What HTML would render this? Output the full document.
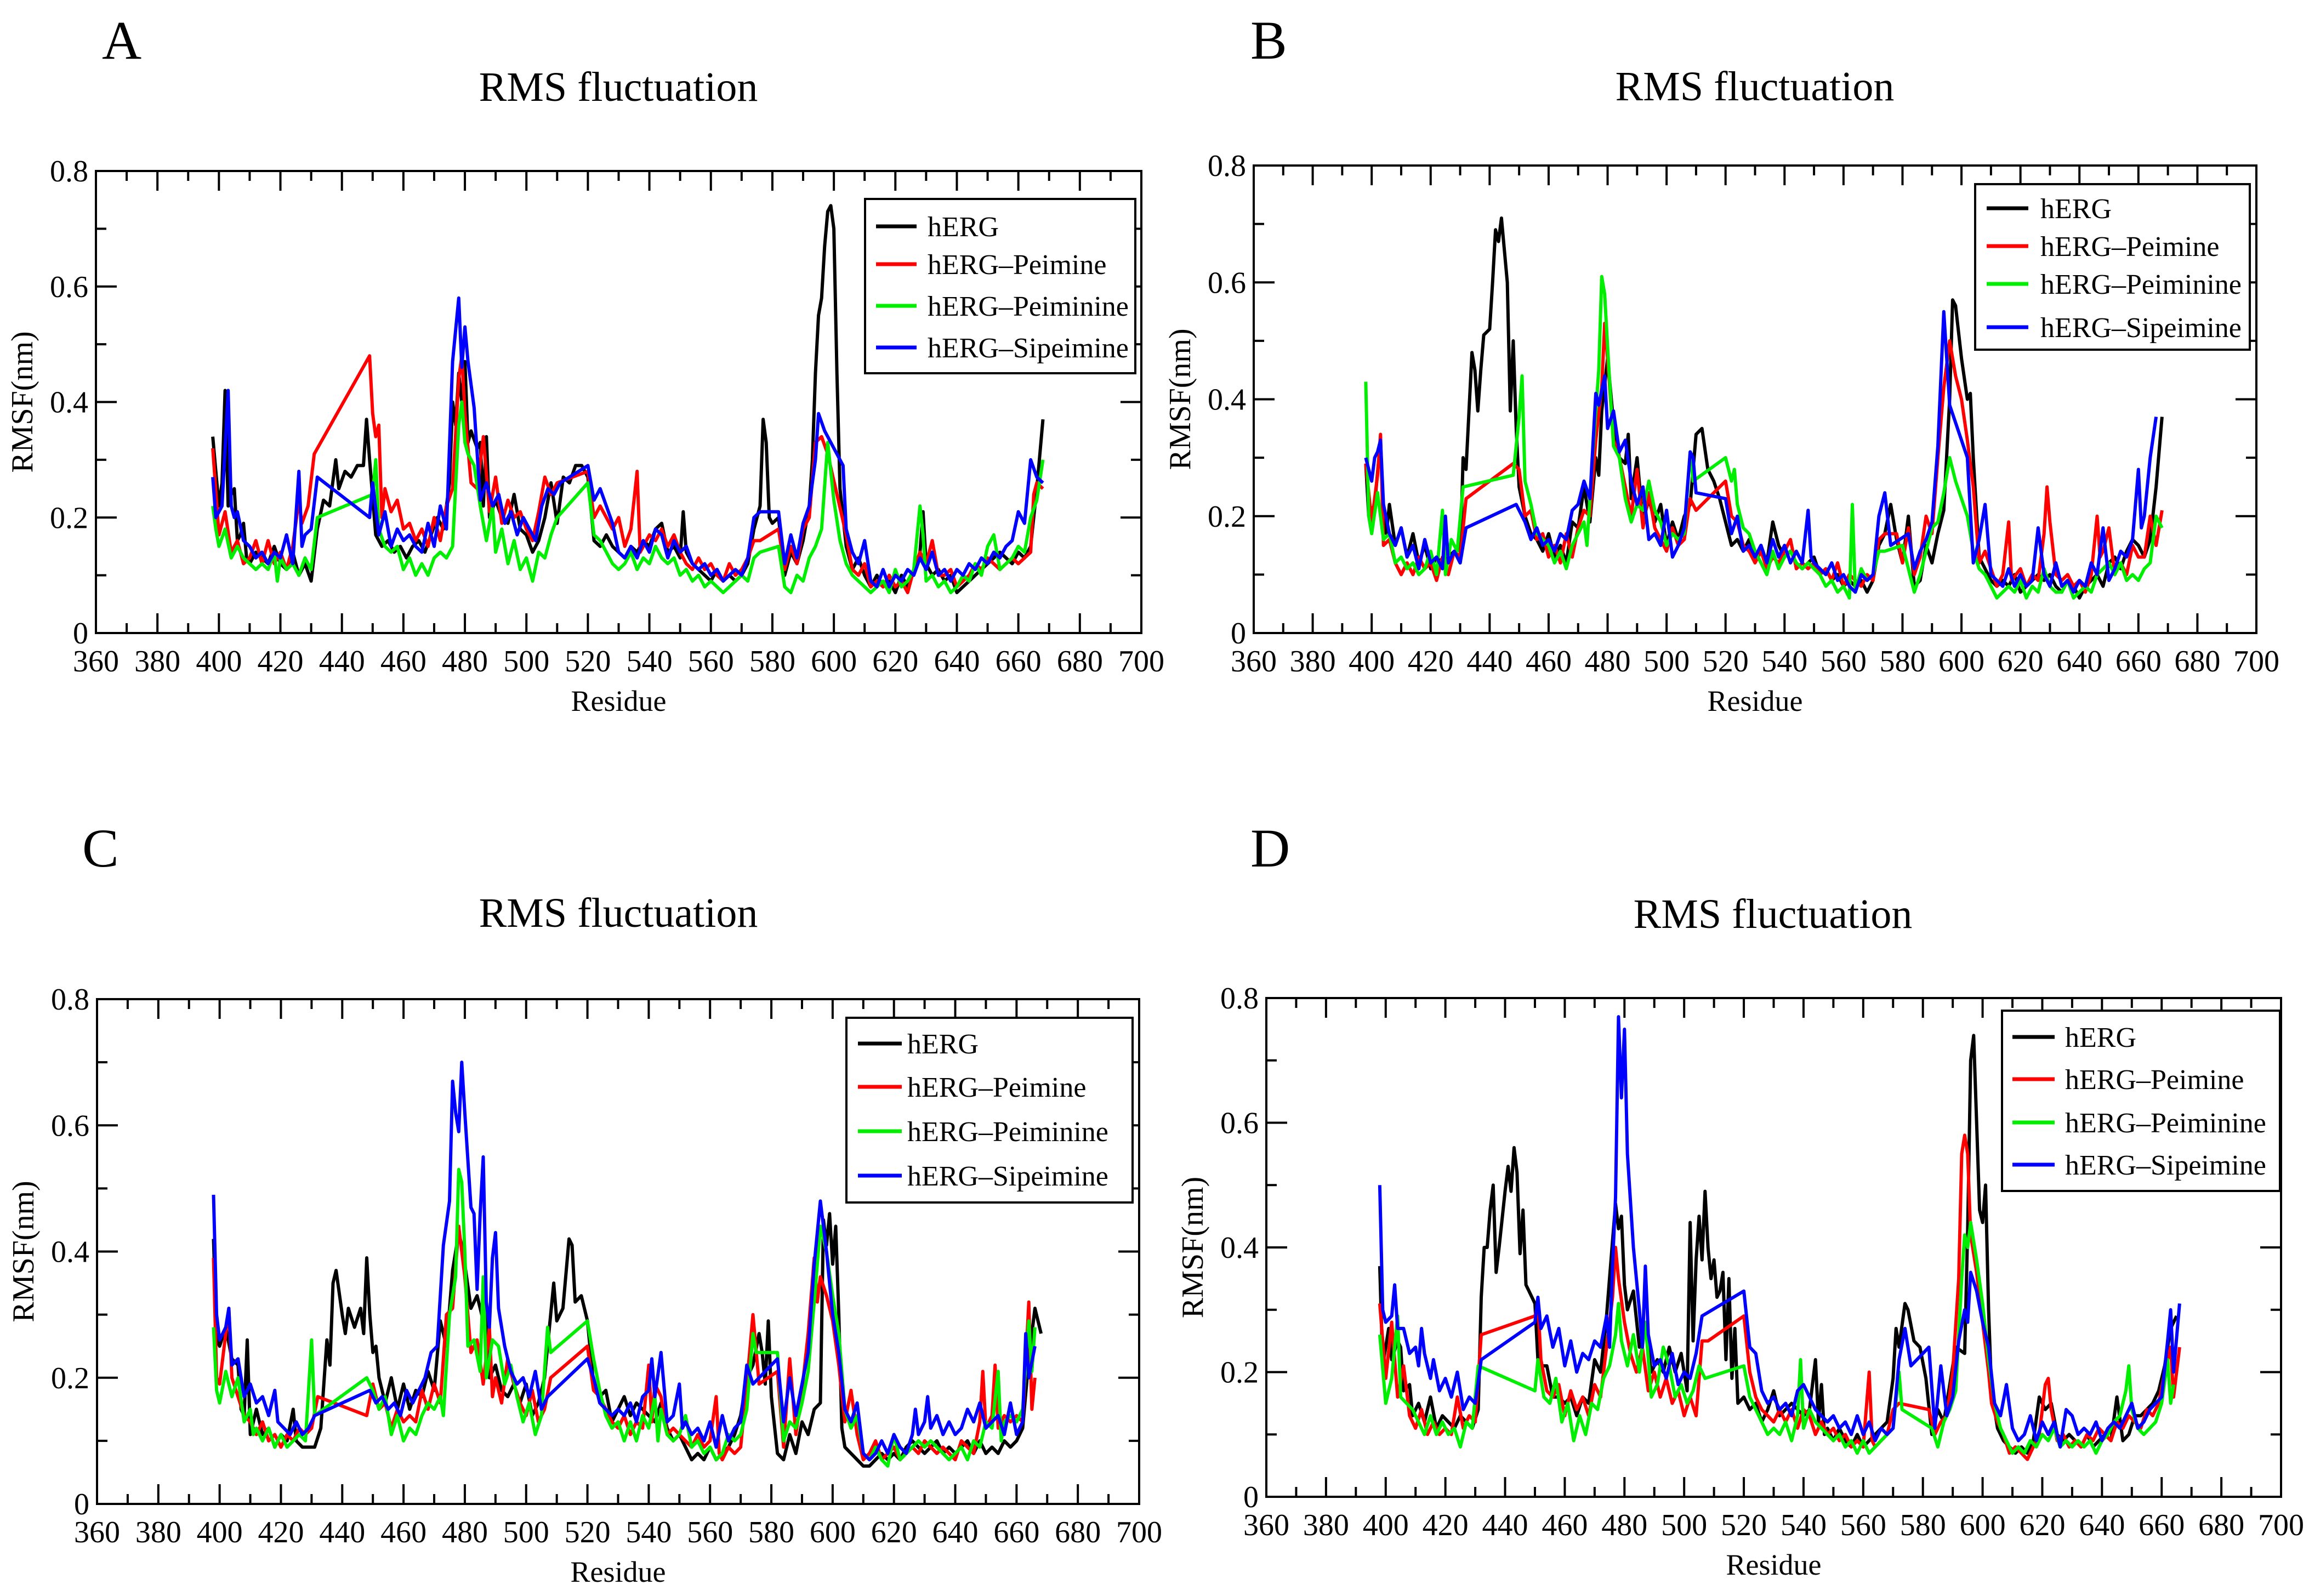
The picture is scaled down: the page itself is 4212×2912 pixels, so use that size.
<!DOCTYPE html>
<html><head><meta charset="utf-8"><title>RMS fluctuation</title>
<style>html,body{margin:0;padding:0;background:#fff}svg{display:block}text{font-family:"Liberation Serif",serif}</style>
</head><body>
<svg id="fig" xmlns="http://www.w3.org/2000/svg" width="4212" height="2912" viewBox="0 0 4212 2912">
<rect x="0" y="0" width="4212" height="2912" fill="#fff"/>
</svg>
<script>
// ---- data: [residue, RMSF(nm)] ----
const A_hERG=[[398,.34],[399,.28],[400,.22],[401,.26],[402,.42],[403,.22],[404,.24],[405,.25],[406,.16],[407,.17],[408,.19],[409,.13],[410,.12],[412,.14],[414,.13],[416,.12],[418,.15],[420,.12],[422,.11],[424,.14],[426,.10],[428,.12],[430,.09],[432,.18],[434,.23],[436,.22],[438,.30],[439,.25],[441,.28],[443,.27],[445,.29],[447,.29],[448,.37],[449,.30],[451,.17],[453,.15],[455,.16],[457,.14],[459,.15],[461,.13],[463,.15],[465,.16],[467,.14],[469,.17],[471,.20],[473,.18],[475,.26],[476,.40],[477,.36],[478,.45],[479,.40],[480,.47],[481,.33],[482,.35],[484,.32],[485,.33],[486,.22],[487,.34],[488,.20],[490,.23],[492,.20],[494,.19],[496,.24],[498,.18],[500,.17],[502,.14],[504,.16],[506,.20],[508,.26],[510,.19],[512,.27],[514,.26],[516,.29],[518,.29],[520,.27],[522,.16],[524,.15],[526,.17],[528,.15],[530,.14],[532,.13],[534,.15],[536,.14],[538,.16],[540,.15],[542,.18],[544,.19],[546,.14],[548,.15],[550,.13],[551,.21],[552,.14],[554,.12],[556,.11],[558,.10],[560,.09],[562,.11],[564,.09],[566,.10],[568,.09],[570,.10],[572,.12],[574,.18],[576,.22],[577,.37],[578,.33],[579,.20],[580,.19],[582,.20],[584,.10],[586,.14],[588,.12],[590,.16],[592,.22],[593,.30],[594,.45],[595,.55],[596,.58],[597,.67],[598,.73],[599,.74],[600,.70],[601,.45],[602,.25],[604,.15],[606,.11],[608,.13],[610,.10],[612,.08],[614,.10],[616,.08],[618,.09],[620,.07],[622,.10],[624,.08],[626,.11],[628,.14],[629,.21],[630,.12],[632,.10],[634,.11],[636,.09],[638,.10],[640,.07],[642,.08],[644,.09],[646,.10],[648,.11],[650,.12],[652,.13],[654,.14],[656,.13],[658,.12],[660,.14],[662,.13],[664,.15],[666,.25],[668,.37]];
const A_Peimine=[[398,.32],[400,.17],[402,.21],[404,.14],[406,.16],[408,.12],[410,.13],[412,.16],[414,.12],[416,.16],[418,.12],[420,.14],[422,.11],[424,.15],[426,.23],[427,.19],[429,.22],[431,.31],[449,.48],[450,.38],[451,.34],[452,.36],[453,.20],[454,.25],[456,.21],[458,.23],[460,.18],[462,.19],[464,.16],[466,.18],[468,.15],[470,.20],[472,.16],[474,.22],[476,.25],[478,.44],[479,.48],[480,.38],[482,.26],[484,.25],[486,.34],[488,.21],[490,.27],[492,.19],[494,.23],[496,.20],[498,.21],[500,.18],[502,.16],[504,.21],[506,.27],[508,.24],[510,.26],[520,.28],[522,.20],[524,.22],[526,.20],[528,.18],[530,.20],[532,.15],[534,.18],[536,.28],[537,.14],[540,.17],[542,.16],[544,.18],[546,.15],[548,.17],[550,.14],[552,.12],[554,.11],[556,.13],[558,.11],[560,.12],[562,.10],[564,.09],[566,.12],[568,.10],[570,.11],[572,.13],[574,.16],[576,.16],[582,.18],[584,.11],[586,.15],[588,.12],[590,.18],[592,.20],[594,.33],[596,.34],[598,.31],[604,.17],[606,.11],[608,.10],[610,.12],[612,.08],[614,.09],[616,.08],[618,.10],[620,.08],[622,.09],[624,.07],[626,.11],[628,.14],[630,.12],[632,.16],[634,.10],[636,.10],[638,.11],[640,.08],[642,.09],[644,.10],[646,.12],[648,.11],[650,.13],[652,.12],[654,.11],[656,.12],[658,.13],[660,.12],[662,.13],[664,.14],[665,.24],[666,.26],[668,.25]];
const A_Peiminine=[[398,.22],[399,.18],[400,.15],[402,.18],[404,.13],[406,.15],[408,.13],[410,.12],[412,.11],[414,.12],[416,.11],[418,.14],[419,.09],[420,.13],[422,.11],[424,.12],[426,.10],[428,.13],[430,.11],[432,.20],[450,.24],[451,.30],[452,.18],[454,.15],[456,.14],[458,.15],[460,.11],[462,.13],[464,.10],[466,.12],[468,.10],[470,.13],[472,.14],[474,.13],[476,.15],[478,.36],[479,.40],[480,.33],[481,.31],[483,.29],[485,.22],[487,.16],[489,.22],[490,.14],[492,.18],[494,.12],[496,.16],[498,.11],[500,.13],[502,.09],[504,.14],[506,.13],[508,.17],[510,.20],[520,.26],[522,.17],[524,.16],[526,.14],[528,.12],[530,.11],[532,.12],[534,.14],[536,.11],[538,.13],[540,.12],[542,.15],[544,.13],[546,.12],[548,.13],[550,.10],[552,.11],[554,.09],[556,.10],[558,.08],[560,.09],[562,.08],[564,.07],[566,.08],[568,.09],[570,.10],[572,.09],[574,.13],[576,.14],[582,.15],[584,.08],[586,.07],[588,.10],[590,.09],[592,.13],[594,.15],[596,.18],[598,.33],[600,.23],[602,.16],[604,.12],[606,.10],[608,.09],[610,.08],[612,.07],[614,.08],[616,.09],[618,.07],[620,.11],[622,.08],[624,.09],[626,.11],[628,.22],[629,.17],[630,.09],[632,.10],[634,.08],[636,.09],[638,.07],[640,.08],[642,.10],[644,.09],[646,.12],[648,.10],[650,.15],[652,.17],[654,.11],[656,.12],[658,.13],[660,.15],[662,.14],[664,.20],[666,.23],[668,.30]];
const A_Sipeimine=[[398,.27],[399,.20],[401,.22],[403,.42],[404,.22],[405,.20],[406,.21],[408,.16],[410,.15],[412,.13],[414,.14],[416,.12],[418,.14],[420,.13],[422,.17],[424,.12],[426,.28],[427,.15],[428,.17],[430,.18],[432,.27],[449,.20],[450,.26],[452,.17],[454,.21],[456,.15],[458,.18],[460,.16],[462,.17],[464,.15],[466,.14],[468,.19],[470,.15],[472,.22],[474,.18],[476,.47],[478,.58],[479,.46],[480,.53],[481,.47],[483,.39],[485,.23],[487,.26],[489,.22],[491,.24],[493,.19],[495,.21],[497,.17],[499,.20],[501,.18],[503,.16],[505,.22],[507,.25],[509,.24],[511,.26],[520,.29],[522,.23],[524,.25],[526,.22],[528,.19],[530,.14],[532,.13],[534,.15],[536,.13],[538,.16],[540,.14],[542,.18],[544,.17],[546,.13],[548,.16],[550,.14],[552,.15],[554,.12],[556,.11],[558,.12],[560,.10],[562,.11],[564,.09],[566,.10],[568,.11],[570,.10],[572,.13],[574,.20],[576,.21],[582,.21],[584,.12],[586,.17],[588,.13],[590,.19],[592,.22],[594,.30],[595,.38],[597,.35],[603,.29],[604,.18],[606,.14],[608,.12],[610,.16],[612,.09],[614,.08],[616,.11],[618,.08],[620,.10],[622,.09],[624,.11],[626,.10],[628,.13],[630,.11],[632,.14],[634,.10],[636,.11],[638,.09],[640,.11],[642,.10],[644,.12],[646,.11],[648,.13],[650,.12],[652,.14],[654,.13],[656,.15],[658,.16],[660,.21],[662,.19],[664,.30],[666,.27],[668,.26]];

const B_hERG=[[398,.29],[399,.20],[401,.22],[403,.33],[404,.20],[405,.17],[406,.22],[408,.15],[410,.18],[412,.13],[414,.17],[416,.12],[418,.15],[420,.11],[422,.13],[424,.12],[426,.13],[428,.14],[430,.12],[431,.30],[432,.28],[434,.48],[435,.45],[436,.38],[437,.45],[438,.51],[440,.52],[441,.60],[442,.69],[443,.67],[444,.71],[446,.60],[447,.38],[448,.50],[449,.35],[450,.25],[452,.20],[454,.17],[456,.16],[458,.14],[460,.17],[462,.13],[464,.15],[466,.12],[468,.19],[470,.18],[472,.25],[474,.19],[476,.30],[477,.27],[478,.38],[480,.47],[482,.36],[484,.30],[486,.29],[487,.34],[488,.23],[490,.30],[492,.19],[494,.23],[496,.19],[498,.22],[500,.15],[502,.19],[504,.16],[506,.20],[508,.22],[510,.34],[512,.35],[514,.28],[516,.26],[518,.23],[520,.19],[522,.15],[524,.16],[526,.14],[528,.16],[530,.13],[532,.15],[534,.12],[536,.19],[538,.15],[540,.13],[542,.14],[544,.12],[546,.11],[548,.12],[550,.13],[552,.10],[554,.11],[556,.09],[558,.10],[560,.08],[562,.09],[564,.08],[566,.09],[568,.07],[570,.09],[572,.15],[574,.17],[576,.22],[578,.16],[580,.12],[582,.20],[584,.08],[586,.09],[588,.15],[590,.12],[592,.17],[594,.21],[596,.40],[597,.57],[598,.56],[600,.47],[602,.40],[603,.41],[604,.30],[606,.13],[608,.11],[610,.09],[612,.08],[614,.09],[616,.08],[618,.10],[620,.07],[622,.08],[624,.09],[626,.10],[628,.09],[630,.10],[632,.08],[634,.07],[636,.09],[638,.08],[640,.06],[642,.08],[644,.09],[646,.10],[648,.08],[650,.12],[652,.13],[654,.11],[656,.14],[658,.16],[660,.15],[662,.13],[664,.16],[666,.25],[668,.37]];
const B_Peimine=[[398,.29],[400,.19],[402,.27],[403,.34],[404,.15],[406,.16],[408,.12],[410,.10],[412,.12],[414,.10],[416,.13],[418,.11],[420,.12],[422,.09],[424,.13],[426,.10],[428,.14],[430,.13],[432,.23],[448,.29],[450,.28],[452,.20],[454,.21],[456,.16],[458,.17],[460,.13],[462,.15],[464,.12],[466,.17],[468,.13],[470,.18],[472,.21],[474,.20],[476,.33],[478,.42],[479,.53],[480,.47],[482,.33],[484,.30],[486,.25],[488,.20],[490,.28],[492,.18],[494,.24],[496,.18],[498,.16],[500,.14],[502,.18],[504,.15],[506,.16],[508,.23],[510,.21],[520,.26],[522,.20],[524,.19],[526,.15],[528,.14],[530,.12],[532,.14],[534,.11],[536,.13],[538,.12],[540,.14],[542,.16],[544,.11],[546,.12],[548,.11],[550,.12],[552,.10],[554,.11],[556,.09],[558,.12],[560,.08],[562,.10],[564,.09],[566,.08],[568,.10],[570,.09],[572,.16],[574,.17],[578,.17],[580,.12],[582,.18],[584,.10],[586,.13],[588,.20],[590,.17],[592,.30],[594,.42],[596,.50],[598,.44],[600,.40],[602,.33],[604,.25],[606,.12],[608,.14],[610,.11],[612,.08],[614,.10],[616,.19],[617,.09],[620,.11],[622,.08],[624,.10],[626,.09],[628,.17],[629,.25],[630,.19],[632,.10],[634,.09],[636,.10],[638,.08],[640,.09],[642,.07],[644,.10],[646,.20],[647,.13],[648,.14],[650,.18],[652,.10],[654,.12],[656,.10],[658,.15],[660,.13],[662,.13],[664,.20],[666,.15],[668,.21]];
const B_Peiminine=[[398,.43],[399,.20],[400,.17],[402,.24],[404,.16],[406,.17],[408,.12],[410,.13],[412,.11],[414,.12],[416,.10],[418,.11],[420,.14],[422,.10],[424,.21],[425,.10],[427,.16],[429,.14],[431,.25],[448,.27],[450,.37],[451,.44],[452,.26],[454,.22],[456,.17],[458,.16],[460,.15],[462,.12],[464,.14],[466,.11],[468,.15],[470,.17],[472,.19],[473,.15],[475,.31],[477,.45],[478,.61],[479,.58],[480,.49],[482,.32],[484,.30],[486,.23],[488,.19],[490,.22],[492,.21],[494,.26],[496,.21],[498,.19],[500,.15],[502,.17],[504,.16],[506,.17],[508,.31],[509,.26],[520,.30],[522,.26],[523,.28],[524,.22],[526,.18],[528,.17],[530,.14],[532,.12],[534,.10],[536,.14],[538,.11],[540,.13],[542,.14],[544,.12],[546,.11],[548,.12],[550,.11],[552,.10],[554,.08],[556,.09],[558,.07],[560,.08],[562,.06],[563,.22],[564,.07],[566,.11],[568,.09],[570,.10],[572,.14],[574,.14],[580,.15],[582,.11],[584,.07],[586,.10],[588,.14],[590,.18],[592,.19],[594,.24],[596,.30],[598,.26],[602,.20],[604,.14],[606,.11],[608,.10],[610,.08],[612,.06],[614,.07],[616,.08],[618,.07],[620,.09],[622,.06],[624,.08],[626,.07],[628,.11],[630,.08],[632,.07],[634,.07],[636,.09],[638,.06],[640,.07],[642,.08],[644,.07],[646,.10],[648,.11],[650,.12],[652,.10],[654,.12],[656,.09],[658,.10],[660,.09],[662,.11],[664,.12],[666,.20],[668,.18]];
const B_Sipeimine=[[398,.30],[400,.26],[401,.30],[402,.31],[403,.33],[404,.22],[406,.17],[408,.15],[410,.18],[412,.13],[414,.15],[416,.11],[418,.16],[420,.12],[422,.13],[424,.11],[425,.20],[426,.12],[428,.14],[430,.12],[432,.18],[449,.22],[450,.21],[452,.19],[454,.16],[456,.18],[458,.15],[460,.16],[462,.14],[464,.17],[466,.16],[468,.21],[470,.22],[472,.26],[474,.23],[476,.41],[477,.39],[479,.44],[480,.35],[482,.38],[484,.31],[486,.33],[488,.26],[490,.22],[492,.25],[494,.16],[496,.17],[498,.15],[500,.21],[502,.13],[504,.15],[506,.18],[508,.31],[509,.30],[510,.24],[520,.23],[522,.17],[524,.20],[526,.14],[528,.15],[530,.13],[532,.15],[534,.12],[536,.16],[538,.13],[540,.15],[542,.12],[544,.14],[546,.12],[548,.21],[549,.13],[550,.12],[552,.11],[554,.10],[556,.12],[558,.09],[560,.10],[562,.08],[564,.07],[566,.10],[568,.09],[570,.10],[572,.20],[574,.24],[576,.15],[582,.17],[584,.11],[586,.14],[588,.16],[590,.19],[592,.32],[594,.55],[596,.39],[598,.36],[602,.30],[604,.12],[606,.16],[608,.22],[610,.10],[612,.09],[614,.08],[616,.11],[618,.08],[620,.10],[622,.08],[624,.09],[626,.18],[628,.10],[630,.08],[632,.12],[634,.08],[636,.09],[638,.07],[640,.09],[642,.08],[644,.12],[646,.10],[648,.18],[650,.09],[652,.11],[654,.14],[656,.13],[658,.16],[660,.28],[661,.18],[662,.20],[664,.30],[666,.37]];

const C_hERG=[[398,.42],[399,.26],[400,.25],[402,.28],[404,.23],[406,.22],[407,.15],[408,.14],[409,.26],[410,.11],[412,.15],[414,.11],[416,.12],[418,.09],[420,.11],[422,.10],[424,.15],[425,.10],[427,.09],[429,.09],[431,.09],[433,.12],[435,.26],[436,.22],[437,.35],[438,.37],[440,.30],[441,.27],[442,.31],[444,.28],[446,.31],[447,.27],[448,.39],[449,.30],[450,.24],[451,.25],[452,.20],[454,.16],[456,.20],[458,.15],[460,.19],[462,.15],[464,.18],[466,.17],[468,.21],[470,.18],[472,.29],[474,.25],[476,.37],[478,.43],[479,.41],[480,.38],[482,.31],[484,.33],[486,.29],[487,.31],[488,.20],[490,.22],[492,.18],[494,.17],[496,.19],[498,.16],[500,.19],[502,.14],[504,.16],[506,.20],[508,.30],[509,.35],[510,.29],[512,.31],[514,.42],[515,.41],[516,.32],[518,.33],[520,.29],[522,.19],[524,.17],[526,.18],[528,.13],[530,.15],[532,.17],[534,.14],[536,.16],[538,.15],[540,.14],[542,.13],[544,.16],[546,.12],[548,.10],[550,.11],[552,.09],[554,.07],[556,.08],[558,.07],[560,.09],[562,.07],[564,.08],[566,.09],[568,.11],[570,.14],[572,.20],[574,.22],[576,.27],[577,.24],[578,.19],[579,.29],[580,.17],[582,.08],[584,.07],[586,.11],[588,.08],[590,.13],[592,.11],[594,.15],[596,.16],[597,.45],[598,.41],[599,.46],[600,.38],[601,.44],[602,.30],[603,.12],[604,.09],[606,.08],[608,.07],[610,.06],[612,.06],[614,.07],[616,.08],[618,.07],[620,.08],[622,.07],[624,.09],[626,.10],[628,.09],[630,.08],[632,.09],[634,.10],[636,.08],[638,.09],[640,.08],[642,.09],[644,.10],[646,.08],[648,.10],[650,.08],[652,.09],[654,.08],[656,.10],[658,.09],[660,.10],[662,.12],[664,.23],[666,.31],[668,.27]];
const C_Peimine=[[398,.39],[399,.20],[400,.19],[402,.27],[403,.31],[404,.20],[406,.17],[408,.14],[410,.13],[412,.11],[414,.13],[416,.10],[418,.11],[420,.09],[422,.11],[424,.10],[426,.12],[428,.11],[430,.12],[432,.17],[448,.14],[450,.19],[452,.15],[454,.16],[456,.12],[458,.15],[460,.13],[462,.14],[464,.13],[466,.18],[468,.15],[470,.19],[472,.16],[474,.30],[476,.31],[478,.44],[480,.36],[482,.24],[484,.26],[486,.19],[488,.28],[489,.17],[490,.20],[492,.16],[494,.23],[496,.19],[498,.16],[500,.14],[502,.18],[504,.13],[506,.15],[508,.20],[520,.25],[522,.18],[524,.17],[526,.15],[528,.13],[530,.12],[532,.14],[534,.11],[536,.13],[538,.12],[540,.22],[541,.13],[542,.19],[544,.17],[546,.11],[548,.12],[550,.11],[552,.10],[554,.09],[556,.11],[558,.09],[560,.10],[562,.17],[563,.08],[564,.07],[566,.09],[568,.08],[570,.09],[572,.19],[574,.30],[576,.19],[582,.21],[584,.09],[586,.23],[588,.11],[590,.18],[592,.27],[594,.39],[595,.32],[596,.36],[598,.33],[600,.29],[602,.22],[604,.13],[606,.18],[608,.11],[610,.07],[612,.08],[614,.10],[616,.07],[618,.08],[620,.09],[622,.07],[624,.08],[626,.09],[628,.08],[630,.10],[632,.09],[634,.08],[636,.09],[638,.08],[640,.07],[642,.10],[644,.09],[646,.08],[648,.13],[649,.21],[650,.12],[652,.14],[653,.22],[654,.12],[656,.14],[658,.13],[660,.14],[662,.13],[664,.32],[665,.15],[666,.20]];
const C_Peiminine=[[398,.28],[399,.18],[400,.16],[402,.21],[404,.17],[406,.20],[408,.13],[410,.15],[411,.11],[412,.12],[414,.10],[416,.12],[418,.09],[420,.11],[422,.09],[424,.10],[426,.11],[428,.10],[430,.26],[431,.14],[448,.20],[450,.18],[452,.15],[454,.17],[456,.11],[458,.14],[460,.10],[462,.12],[464,.11],[466,.14],[468,.16],[470,.15],[472,.17],[473,.14],[475,.30],[477,.36],[478,.53],[479,.51],[480,.40],[481,.25],[483,.26],[485,.21],[486,.36],[487,.20],[489,.26],[491,.25],[493,.19],[495,.22],[497,.17],[499,.13],[501,.16],[503,.11],[505,.14],[507,.28],[508,.24],[520,.29],[522,.23],[524,.18],[526,.14],[528,.12],[530,.13],[532,.10],[534,.13],[536,.10],[538,.14],[540,.12],[542,.17],[543,.10],[544,.15],[546,.11],[548,.10],[550,.11],[552,.14],[554,.09],[556,.10],[558,.08],[560,.09],[562,.07],[564,.08],[566,.11],[568,.10],[570,.11],[572,.15],[574,.27],[575,.24],[582,.24],[584,.10],[586,.13],[588,.12],[590,.16],[592,.21],[594,.32],[596,.44],[598,.40],[600,.33],[602,.27],[604,.15],[606,.12],[608,.14],[610,.08],[612,.07],[614,.09],[616,.07],[618,.06],[620,.11],[622,.07],[624,.08],[626,.09],[628,.10],[630,.09],[632,.10],[634,.09],[636,.08],[638,.07],[640,.08],[642,.09],[644,.07],[646,.10],[648,.09],[650,.13],[652,.12],[654,.21],[655,.10],[656,.13],[658,.14],[660,.13],[662,.15],[664,.29],[665,.21],[666,.28]];
const C_Sipeimine=[[398,.49],[399,.30],[400,.26],[402,.28],[403,.31],[404,.22],[406,.23],[408,.17],[410,.19],[412,.16],[414,.17],[416,.14],[418,.18],[419,.13],[421,.12],[423,.11],[425,.13],[427,.11],[429,.12],[431,.14],[449,.18],[451,.16],[453,.17],[455,.15],[457,.16],[459,.14],[461,.18],[463,.16],[465,.18],[467,.20],[469,.24],[471,.25],[473,.41],[475,.48],[476,.67],[477,.62],[478,.59],[479,.70],[480,.62],[482,.47],[483,.46],[484,.34],[485,.46],[486,.55],[487,.32],[488,.28],[489,.39],[490,.43],[491,.31],[493,.25],[495,.21],[497,.19],[499,.20],[501,.17],[503,.21],[505,.15],[507,.17],[520,.23],[522,.20],[524,.16],[526,.15],[528,.14],[530,.15],[532,.14],[534,.16],[536,.13],[538,.17],[540,.18],[541,.23],[542,.17],[544,.24],[546,.13],[548,.14],[550,.19],[551,.12],[552,.13],[554,.11],[556,.12],[558,.10],[560,.13],[562,.09],[564,.14],[566,.10],[568,.12],[570,.13],[572,.22],[574,.19],[582,.23],[584,.13],[586,.20],[588,.14],[590,.19],[592,.24],[594,.38],[596,.48],[598,.40],[600,.30],[602,.24],[604,.15],[606,.13],[608,.16],[610,.08],[612,.07],[614,.08],[616,.10],[618,.08],[620,.11],[622,.09],[624,.08],[626,.11],[627,.15],[628,.11],[630,.13],[631,.17],[632,.12],[634,.14],[636,.11],[638,.13],[640,.11],[642,.12],[644,.15],[646,.13],[648,.16],[650,.12],[652,.13],[654,.14],[656,.11],[658,.16],[660,.11],[662,.13],[663,.27],[664,.20],[666,.25]];

const D_hERG=[[398,.37],[399,.21],[401,.27],[402,.22],[404,.25],[405,.24],[406,.17],[408,.18],[409,.13],[411,.15],[413,.12],[415,.16],[417,.11],[419,.13],[421,.12],[423,.11],[425,.13],[427,.12],[429,.11],[431,.14],[432,.32],[433,.40],[434,.40],[435,.46],[436,.50],[437,.36],[438,.40],[440,.49],[441,.53],[442,.49],[443,.56],[444,.52],[445,.39],[446,.46],[447,.34],[448,.33],[450,.31],[451,.22],[452,.21],[454,.21],[456,.16],[458,.16],[460,.15],[462,.16],[464,.13],[466,.16],[468,.15],[470,.22],[472,.20],[474,.29],[476,.41],[477,.47],[478,.43],[479,.45],[480,.34],[481,.30],[483,.33],[485,.24],[487,.27],[489,.20],[491,.22],[493,.20],[495,.24],[497,.20],[499,.23],[501,.17],[502,.44],[503,.25],[504,.38],[505,.45],[506,.38],[507,.49],[508,.40],[509,.35],[510,.38],[511,.32],[512,.33],[513,.36],[514,.22],[515,.35],[516,.19],[517,.27],[518,.15],[520,.16],[522,.14],[524,.15],[526,.12],[528,.14],[530,.17],[532,.13],[534,.14],[536,.15],[538,.14],[540,.13],[542,.14],[544,.22],[545,.12],[546,.18],[547,.10],[548,.11],[550,.09],[552,.11],[554,.09],[556,.08],[558,.10],[560,.08],[562,.09],[564,.10],[566,.11],[568,.12],[570,.19],[571,.27],[572,.24],[574,.31],[575,.30],[577,.25],[579,.24],[581,.19],[583,.10],[585,.14],[587,.12],[589,.18],[591,.24],[594,.23],[595,.43],[596,.70],[597,.74],[598,.60],[599,.46],[600,.44],[601,.50],[602,.30],[603,.17],[605,.11],[607,.09],[609,.08],[611,.07],[613,.08],[615,.07],[617,.09],[619,.16],[621,.14],[623,.15],[625,.10],[627,.09],[629,.10],[631,.09],[633,.08],[635,.10],[637,.08],[639,.09],[641,.10],[643,.09],[645,.16],[647,.09],[649,.10],[651,.13],[653,.13],[655,.14],[657,.15],[659,.17],[661,.21],[663,.27],[665,.29]];
const D_Peimine=[[398,.31],[400,.19],[402,.28],[404,.16],[406,.21],[408,.13],[410,.11],[412,.14],[414,.10],[416,.12],[418,.10],[420,.11],[422,.10],[424,.16],[426,.11],[428,.13],[430,.12],[432,.26],[450,.29],[451,.31],[452,.22],[454,.17],[456,.16],[458,.18],[460,.13],[462,.17],[464,.14],[466,.16],[468,.13],[470,.18],[472,.16],[474,.24],[476,.32],[477,.40],[478,.35],[480,.28],[482,.23],[484,.20],[486,.24],[488,.17],[490,.20],[492,.16],[494,.19],[496,.15],[498,.17],[500,.13],[502,.16],[504,.13],[506,.25],[508,.25],[520,.29],[522,.20],[524,.16],[526,.14],[528,.13],[530,.12],[532,.14],[534,.12],[536,.14],[538,.11],[540,.14],[542,.13],[544,.10],[546,.12],[548,.10],[550,.11],[552,.09],[554,.10],[556,.08],[558,.09],[560,.08],[562,.20],[563,.09],[564,.08],[566,.09],[568,.10],[570,.14],[572,.15],[582,.14],[584,.10],[586,.12],[588,.13],[590,.20],[592,.35],[593,.55],[594,.58],[595,.55],[596,.42],[598,.36],[600,.28],[602,.20],[603,.15],[605,.12],[607,.10],[609,.07],[611,.08],[613,.07],[615,.06],[617,.08],[619,.10],[621,.18],[622,.19],[623,.14],[625,.09],[627,.10],[629,.08],[631,.09],[633,.08],[635,.10],[637,.09],[639,.11],[641,.10],[643,.09],[645,.12],[647,.11],[649,.13],[651,.12],[653,.11],[655,.14],[657,.13],[659,.15],[661,.20],[663,.24],[664,.16],[666,.24]];
const D_Peiminine=[[398,.26],[400,.15],[402,.19],[404,.29],[405,.16],[407,.15],[409,.14],[411,.12],[413,.10],[415,.13],[417,.10],[419,.12],[421,.10],[423,.11],[425,.08],[427,.12],[429,.11],[431,.21],[450,.17],[451,.22],[453,.16],[455,.15],[457,.19],[459,.12],[461,.15],[463,.09],[465,.13],[467,.10],[469,.15],[471,.14],[473,.19],[475,.21],[477,.26],[478,.31],[479,.25],[481,.21],[483,.26],[485,.20],[487,.28],[489,.16],[491,.18],[493,.24],[495,.21],[497,.16],[499,.18],[501,.15],[503,.17],[505,.21],[507,.19],[520,.21],[522,.16],[524,.14],[526,.12],[528,.10],[530,.11],[532,.10],[534,.12],[536,.09],[538,.13],[539,.22],[540,.11],[542,.14],[544,.12],[546,.11],[548,.10],[550,.09],[552,.10],[554,.08],[556,.09],[558,.07],[560,.09],[562,.07],[564,.08],[566,.09],[568,.10],[570,.11],[572,.20],[573,.14],[583,.11],[585,.08],[587,.12],[589,.14],[591,.17],[593,.35],[594,.42],[595,.40],[596,.44],[598,.38],[600,.31],[602,.22],[604,.15],[606,.11],[608,.09],[610,.07],[612,.08],[614,.07],[616,.09],[618,.08],[620,.10],[622,.09],[624,.11],[626,.08],[628,.09],[630,.08],[632,.09],[634,.08],[636,.09],[638,.07],[640,.09],[642,.10],[644,.12],[646,.13],[648,.17],[649,.21],[650,.14],[652,.11],[654,.10],[656,.11],[658,.12],[660,.15],[662,.22],[663,.15],[664,.18]];
const D_Sipeimine=[[398,.50],[399,.30],[400,.28],[402,.29],[403,.34],[404,.27],[406,.27],[408,.23],[410,.24],[411,.21],[412,.27],[413,.23],[415,.19],[416,.22],[418,.17],[420,.19],[422,.16],[424,.20],[426,.14],[428,.16],[430,.15],[432,.22],[450,.28],[451,.32],[452,.27],[454,.29],[456,.24],[458,.27],[460,.21],[462,.25],[464,.20],[466,.23],[468,.22],[470,.25],[472,.24],[474,.29],[475,.24],[476,.37],[477,.48],[478,.77],[479,.64],[480,.75],[481,.55],[483,.40],[485,.30],[486,.24],[487,.37],[488,.26],[490,.21],[492,.22],[494,.19],[496,.23],[498,.18],[500,.20],[502,.19],[504,.23],[506,.29],[520,.33],[522,.24],[524,.23],[526,.17],[528,.15],[530,.16],[532,.14],[534,.15],[536,.13],[538,.17],[540,.18],[542,.16],[544,.14],[546,.13],[548,.12],[550,.13],[552,.11],[554,.12],[556,.10],[558,.13],[560,.10],[562,.12],[564,.09],[566,.11],[568,.10],[570,.11],[572,.22],[574,.27],[576,.21],[582,.24],[584,.11],[586,.21],[588,.13],[590,.16],[592,.25],[594,.30],[595,.28],[596,.36],[598,.33],[600,.28],[602,.24],[604,.15],[606,.13],[608,.18],[610,.11],[612,.09],[614,.10],[616,.13],[618,.09],[620,.12],[622,.10],[624,.12],[626,.08],[628,.14],[630,.13],[632,.10],[634,.11],[636,.10],[638,.12],[640,.09],[642,.11],[644,.12],[646,.11],[648,.13],[650,.15],[652,.11],[654,.12],[656,.14],[658,.15],[660,.16],[662,.25],[663,.30],[664,.20],[666,.31]];

const seriesNames=["hERG","hERG\u2013Peimine","hERG\u2013Peiminine","hERG\u2013Sipeimine"];
const seriesKeys=["herg","herg-peimine","herg-peiminine","herg-sipeimine"];
const xTicks=[360,380,400,420,440,460,480,500,520,540,560,580,600,620,640,660,680,700];
const yTicks=[0,0.2,0.4,0.6,0.8];
const yTickLabels=["0","0.2","0.4","0.6","0.8"];

const colors=["#000000","#ff0000","#00ee00","#0000ff"];
const panels=[
 {id:"a",letter:"A",data:[A_hERG,A_Peimine,A_Peiminine,A_Sipeimine],L:175,R:2082,T:312,B:1155,tx:1128,ty:184,lx:186,ly:107,leg:[1578,363,2071,681],ey:[413,482,558,634],l1:1598,l2:1672,ltx:1692},
 {id:"b",letter:"B",data:[B_hERG,B_Peimine,B_Peiminine,B_Sipeimine],L:2287,R:4116,T:302,B:1155,tx:3201,ty:183,lx:2281,ly:107,leg:[3603,336,4104,638],ey:[380,449,518,597],l1:3624,l2:3700,ltx:3722},
 {id:"c",letter:"C",data:[C_hERG,C_Peimine,C_Peiminine,C_Sipeimine],L:177,R:2078,T:1823,B:2744,tx:1128,ty:1691,lx:150,ly:1581,leg:[1544,1857,2066,2194],ey:[1904,1983,2064,2145],l1:1565,l2:1645,ltx:1655},
 {id:"d",letter:"D",data:[D_hERG,D_Peimine,D_Peiminine,D_Sipeimine],L:2310,R:4161,T:1821,B:2731,tx:3234,ty:1693,lx:2281,ly:1581,leg:[3652,1844,4159,2173],ey:[1892,1969,2048,2125],l1:3671,l2:3748,ltx:3767}
];
const NS="http://www.w3.org/2000/svg";
const svg=document.getElementById("fig");
function mk(tag,attrs,parent){const e=document.createElementNS(NS,tag);for(const k in attrs)e.setAttribute(k,attrs[k]);(parent||svg).appendChild(e);return e;}
function txt(s,attrs,parent){const e=mk("text",attrs,parent);e.textContent=s;return e;}

panels.forEach(p=>{
 const g=mk("g",{});
 
 
 const xs=r=>p.L+(r-360)/(700-360)*(p.R-p.L);
 const ys=v=>p.B-v/0.8*(p.B-p.T);
 const lt=txt(p.letter,{x:p.lx,y:p.ly,"font-size":100},g);
 
 
 const t=txt("RMS fluctuation",{x:p.tx,y:p.ty,"font-size":76,"text-anchor":"middle"},g);
 
 
 const sg=mk("g",{},g);
 
 
 p.data.forEach((d,i)=>{
  const pts=d.map(q=>xs(q[0]).toFixed(1)+","+ys(q[1]).toFixed(1)).join(" ");
  const pl=mk("polyline",{points:pts,fill:"none",stroke:colors[i],"stroke-width":6,"stroke-linejoin":"round"},sg);
  
  
 });
 const fr=mk("rect",{x:p.L,y:p.T,width:p.R-p.L,height:p.B-p.T,fill:"none",stroke:"#000","stroke-width":4},g);
 
 
 let path="";
 for(let r=360;r<=700;r+=10){const x=xs(r),len=(r%20===0)?36:18;path+=`M${x},${p.B}v${-len}M${x},${p.T}v${len}`;}
 for(let k=0;k<=8;k++){const v=k*0.1,y=ys(v),len=(k%2===0)?38:19;path+=`M${p.L},${y}h${len}M${p.R},${y}h${-len}`;}
 const tk=mk("path",{d:path,stroke:"#000","stroke-width":4,fill:"none"},g);
 
 
 const xa=mk("g",{},g);
 
 
 xTicks.forEach(r=>{const e=txt(String(r),{x:xs(r),y:p.B+70,"font-size":56,"text-anchor":"middle"},xa);
  
  });
 const ya=mk("g",{},g);
 
 
 yTicks.forEach((v,i)=>{const e=txt(yTickLabels[i],{x:p.L-14,y:ys(v)+19,"font-size":56,"text-anchor":"end"},ya);
  
  });
 const xt=txt("Residue",{x:(p.L+p.R)/2,y:p.B+142,"font-size":54,"text-anchor":"middle"},g);
 
 
 const cy=(p.T+p.B)/2, cx=p.L-135;
 const yt=txt("RMSF(nm)",{x:cx,y:cy,"font-size":56,"text-anchor":"middle",transform:`rotate(-90 ${cx} ${cy})`,dy:19},g);
 
 
 const lg=mk("g",{},g);
 
 
 mk("rect",{x:p.leg[0],y:p.leg[1],width:p.leg[2]-p.leg[0],height:p.leg[3]-p.leg[1],fill:"#fff",stroke:"#000","stroke-width":4},lg);
 seriesNames.forEach((n,i)=>{
  const en=mk("g",{},lg);
  
  
  mk("line",{x1:p.l1,x2:p.l2,y1:p.ey[i],y2:p.ey[i],stroke:colors[i],"stroke-width":7},en);
  txt(n,{x:p.ltx,y:p.ey[i]+18,"font-size":52},en);
 });
});
</script>
</body></html>
